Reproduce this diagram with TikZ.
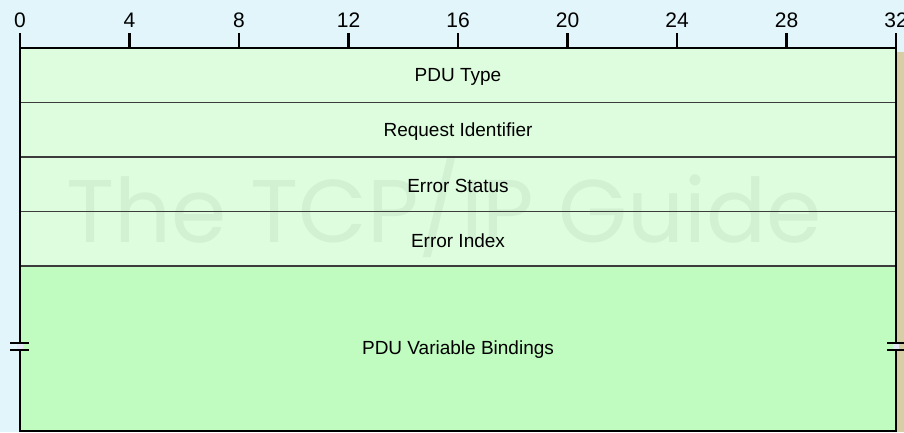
\documentclass[tikz,border=0pt]{standalone}
\usepackage{fontspec}
\setmainfont{Liberation Sans}
\newfontfamily\markfont{Poppins}
\usetikzlibrary{positioning}
\definecolor{bgblue}{HTML}{E1F5FA}
\definecolor{fieldlight}{HTML}{DEFDDE}
\definecolor{fielddark}{HTML}{C0FCC0}
\definecolor{rowline}{HTML}{3C3C3C}
\definecolor{shadowtan}{HTML}{D6CEA4}
\definecolor{markgreen}{HTML}{D2F0D2}
\definecolor{gapcolor}{HTML}{E6E8FA}

\begin{document}
\begin{tikzpicture}[x=1pt,y=1pt]
                        \tikzstyle{every node}=[inner sep=0,outer sep=0]
                        \tikzstyle{field}=[rectangle,minimum width=876,minimum height=54.5,fill=fieldlight]
                        \tikzstyle{bigfield}=[field,minimum height=165,fill=fielddark]
                        \tikzstyle{label}=[font=\fontsize{19}{21}\selectfont]
                        \tikzstyle{bitnum}=[font=\fontsize{21}{24}\selectfont,anchor=base]
                        \tikzstyle{tick}=[draw=black,line width=2.5]
                        \tikzstyle{rowsep}=[draw=rowline,line width=1.3]
                        \tikzstyle{frame}=[draw=black,line width=2.5]
                        \tikzstyle{brk}=[draw=black,line width=2]
                        {
                            \fill[bgblue] (0,0) rectangle (904,-432);
                            \useasboundingbox (0,0) rectangle (904,-432);
                            \fill[shadowtan] (897,-52) rectangle (904,-432);

                            % fields
                            \node[field,anchor=north west] (f0) at (20,-48) {};
                            \node[field,below=0pt of f0] (f1) {};
                            \node[field,below=0pt of f1] (f2) {};
                            \node[field,below=0pt of f2] (f3) {};
                            \node[bigfield,below=0pt of f3] (f4) {};

                            \node[markgreen,font=\markfont\fontsize{89}{94}\selectfont,anchor=base] (mark) at (444,-242) {The TCP/IP Guide};

                            \node[label] (l0) at ([yshift=-1.5]f0) {PDU Type};
                            \node[label] (l1) at ([yshift=-1.5]f1) {Request Identifier};
                            \node[label] (l2) at ([yshift=-1.5]f2) {Error Status};
                            \node[label] (l3) at ([yshift=-1.5]f3) {Error Index};
                            \node[label] (l4) at ([yshift=-1.5]f4) {PDU Variable Bindings};

                            \foreach \number in {0,1,2,3} {
                                \draw[rowsep] (f\number.south west) -- (f\number.south east);
                            }
                            \draw[frame] (f0.north west) rectangle (f4.south east);

                            % bit ruler
                            \foreach \number in {0,4,...,32} {
                                \coordinate (tt\number) at (20+\number*27.375,-33);
                                \coordinate (tb\number) at (20+\number*27.375,-48);
                                \node[bitnum] (n\number) at (20+\number*27.375,-27) {\number};
                                \draw[tick] (tt\number) -- (tb\number);
                            }

                            % break marks
                            \fill[gapcolor] (17,-343) rectangle (23,-350);
                            \fill[gapcolor] (893,-343) rectangle (899,-350);
                            \coordinate (la) at (10,-343); \coordinate (lb) at (29,-343);
                            \coordinate (lc) at (10,-350); \coordinate (ld) at (29,-350);
                            \coordinate (ra) at (887,-343); \coordinate (rb) at (904,-343);
                            \coordinate (rc) at (887,-350); \coordinate (rd) at (904,-350);
                            \draw[brk] (la) -- (lb);
                            \draw[brk] (lc) -- (ld);
                            \draw[brk] (ra) -- (rb);
                            \draw[brk] (rc) -- (rd);
                        }
\end{tikzpicture}
\end{document}
